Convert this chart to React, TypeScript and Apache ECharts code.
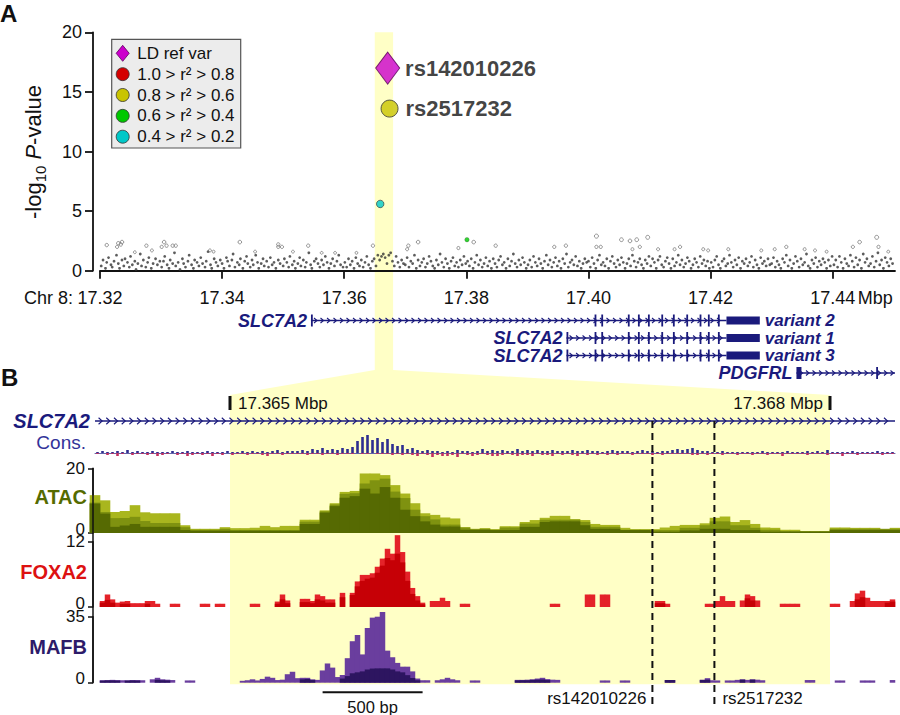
import { useEffect, useRef } from 'react';
import * as echarts from 'echarts';

const FONT = '"Liberation Sans", Arial, Helvetica, sans-serif';
const INK = '#111111';
const NAVY = '#1A1A7C';
const HIGHLIGHT = '#FFFFC6';

// ---------- Panel A: regional association scan ----------
const scanStart = 17.32;
const scanEnd = 17.4502;
const scanTicks = [17.32, 17.34, 17.36, 17.38, 17.4, 17.42, 17.44];
const pTicks = [0, 5, 10, 15, 20];

// background variants: offset (kb) from 17.32 Mbp, -log10 P
const bgKb = [
  0.2, 0.5, 0.9, 1.1, 1.4, 1.8, 2.0, 2.3, 2.7, 3.0, 3.2, 3.6, 3.9, 4.1, 4.5, 4.8, 5.0, 5.3, 5.7, 5.9, 6.2, 6.6, 6.8, 7.1, 7.5, 7.8, 8.0, 8.4, 8.7, 9.1, 9.4, 9.8,
  10.1, 10.4, 10.6, 11.0, 11.3, 11.5, 11.9, 12.2, 12.4, 12.8, 13.1, 13.5, 13.7, 14.0, 14.4, 14.6, 15.0, 15.3, 15.5, 15.9, 16.2, 16.5, 16.8, 17.2, 17.4, 17.7, 18.1, 18.3, 18.7, 19.0, 19.3, 19.7,
  20.0, 20.3, 20.7, 20.9, 21.2, 21.6, 21.8, 22.1, 22.5, 22.8, 23.0, 23.4, 23.7, 24.0, 24.2, 24.6, 24.9, 25.1, 25.5, 25.8, 26.0, 26.4, 26.7, 26.9, 27.3, 27.6, 27.9, 28.2, 28.5, 28.8, 29.2, 29.5,
  30.0, 30.2, 30.6, 30.9, 31.1, 31.5, 31.8, 32.0, 32.4, 32.7, 32.9, 33.3, 33.6, 33.8, 34.2, 34.5, 34.7, 35.1, 35.4, 35.7, 36.0, 36.3, 36.6, 36.9, 37.2, 37.5, 37.8, 38.1, 38.4, 38.8, 39.1, 39.4, 39.8,
  40.1, 40.4, 40.7, 41.0, 41.3, 41.6, 41.9, 42.2, 42.5, 42.8, 43.1, 43.4, 43.7, 44.0, 44.3, 44.6, 44.9, 45.2, 45.5, 45.8, 46.1, 46.4, 46.7, 47.0, 47.3, 47.6, 47.9, 48.2, 48.5, 48.8, 49.1, 49.4, 49.7,
  50.0, 50.3, 50.6, 50.9, 51.2, 51.5, 51.8, 52.1, 52.4, 52.7, 53.0, 53.3, 53.6, 53.9, 54.2, 54.5, 54.8, 55.1, 55.4, 55.7, 56.0, 56.3, 56.6, 56.9, 57.2, 57.5, 57.8, 58.1, 58.4, 58.7, 59.0, 59.3, 59.6, 59.9,
  60.2, 60.5, 60.8, 61.1, 61.4, 61.7, 62.0, 62.3, 62.6, 62.9, 63.2, 63.5, 63.8, 64.1, 64.4, 64.7, 65.0, 65.3, 65.6, 65.9, 66.2, 66.5, 66.8, 67.1, 67.4, 67.7, 68.0, 68.3, 68.6, 68.9, 69.2, 69.5, 69.8,
  70.1, 70.4, 70.7, 71.0, 71.3, 71.6, 71.9, 72.2, 72.5, 72.8, 73.1, 73.4, 73.7, 74.0, 74.3, 74.6, 74.9, 75.2, 75.5, 75.8, 76.1, 76.4, 76.7, 77.0, 77.3, 77.6, 77.9, 78.2, 78.5, 78.8, 79.1, 79.4, 79.7,
  80.0, 80.3, 80.6, 80.9, 81.2, 81.5, 81.8, 82.1, 82.4, 82.7, 83.0, 83.3, 83.6, 83.9, 84.2, 84.5, 84.8, 85.1, 85.4, 85.7, 86.0, 86.3, 86.6, 86.9, 87.2, 87.5, 87.8, 88.1, 88.4, 88.7, 89.0, 89.3, 89.6, 89.9,
  90.2, 90.5, 90.8, 91.1, 91.4, 91.7, 92.0, 92.3, 92.6, 92.9, 93.2, 93.5, 93.8, 94.1, 94.4, 94.7, 95.0, 95.3, 95.6, 95.9, 96.2, 96.5, 96.8, 97.1, 97.4, 97.7, 98.0, 98.3, 98.6, 98.9, 99.2, 99.5, 99.8,
  100.1, 100.4, 100.7, 101.0, 101.3, 101.6, 101.9, 102.2, 102.5, 102.8, 103.1, 103.4, 103.7, 104.0, 104.3, 104.6, 104.9, 105.2, 105.5, 105.8, 106.1, 106.4, 106.7, 107.0, 107.3, 107.6, 107.9, 108.2, 108.5, 108.8, 109.1, 109.4, 109.7,
  110.0, 110.3, 110.6, 110.9, 111.2, 111.5, 111.8, 112.1, 112.4, 112.7, 113.0, 113.3, 113.6, 113.9, 114.2, 114.5, 114.8, 115.1, 115.4, 115.7, 116.0, 116.3, 116.6, 116.9, 117.2, 117.5, 117.8, 118.1, 118.4, 118.7, 119.0, 119.3, 119.6, 119.9,
  120.2, 120.5, 120.8, 121.1, 121.4, 121.7, 122.0, 122.3, 122.6, 122.9, 123.2, 123.5, 123.8, 124.1, 124.4, 124.7, 125.0, 125.3, 125.6, 125.9, 126.2, 126.5, 126.8, 127.1, 127.4, 127.7, 128.0, 128.3, 128.6, 128.9, 129.2, 129.5, 129.8,
];
const bgLogP = [
  0.4, 0.9, 0.2, 0.7, 1.1, 0.5, 0.3, 0.8, 1.3, 0.6, 0.2, 0.9, 0.4, 1.0, 0.7, 0.3, 1.2, 0.5, 0.8, 0.1, 0.6, 1.4, 0.4, 0.9, 0.3, 0.7, 1.1, 0.2, 0.6, 1.0, 0.5, 0.8,
  0.3, 0.8, 1.2, 0.5, 0.2, 0.9, 0.6, 1.5, 0.4, 0.7, 0.1, 1.0, 0.6, 0.3, 0.8, 1.3, 0.5, 0.2, 0.9, 0.7, 0.4, 1.1, 0.6, 0.3, 0.8, 1.6, 0.5, 0.2, 1.0, 0.7, 0.4, 0.9,
  0.6, 0.2, 1.1, 0.8, 0.4, 0.9, 1.4, 0.3, 0.7, 0.5, 1.0, 0.2, 0.8, 1.2, 0.6, 0.3, 0.9, 0.5, 1.3, 0.7, 0.2, 0.6, 1.0, 0.4, 0.8, 0.3, 1.1, 0.5, 0.7, 0.2, 0.9, 0.6,
  0.4, 1.0, 0.7, 0.3, 1.2, 0.5, 0.8, 0.2, 0.6, 1.1, 0.4, 0.9, 0.3, 0.7, 1.5, 0.5, 0.2, 0.8, 1.0, 0.6, 0.3, 0.9, 0.5, 1.2, 0.7, 0.2, 0.6, 1.0, 0.4, 0.8, 1.3, 0.5, 0.3,
  0.7, 0.3, 1.0, 0.5, 0.8, 0.2, 1.1, 0.6, 0.4, 0.9, 0.3, 0.7, 1.2, 0.5, 0.2, 0.8, 1.0, 0.4, 1.3, 0.9, 1.2, 1.4, 1.1, 0.6, 1.3, 1.5, 0.8, 0.4, 1.2, 0.7, 0.3, 0.9, 0.6,
  0.5, 1.1, 0.3, 0.8, 0.6, 1.3, 0.2, 0.9, 0.4, 0.7, 1.0, 0.3, 0.6, 1.2, 0.8, 0.4, 0.2, 0.9, 0.5, 1.4, 0.7, 0.3, 1.0, 0.6, 0.2, 0.8, 1.1, 0.4, 0.7, 0.3, 0.9, 0.5, 1.2, 0.6,
  0.8, 0.4, 1.0, 0.2, 0.7, 1.3, 0.5, 0.9, 0.3, 0.6, 1.1, 0.4, 0.8, 0.2, 1.0, 0.6, 0.3, 0.9, 1.2, 0.5, 0.7, 0.2, 1.0, 0.4, 0.8, 1.4, 0.6, 0.3, 0.9, 0.5, 1.1, 0.7, 0.2,
  0.5, 0.9, 0.3, 1.2, 0.7, 0.4, 1.0, 0.6, 0.2, 0.8, 1.3, 0.5, 0.9, 0.3, 0.7, 1.1, 0.4, 0.8, 0.2, 1.0, 0.6, 1.4, 0.3, 0.7, 0.9, 0.5, 1.2, 0.4, 0.8, 0.2, 0.6, 1.0, 0.7,
  0.8, 0.3, 1.1, 0.6, 0.2, 0.9, 1.3, 0.5, 0.7, 0.4, 1.0, 0.2, 0.8, 1.2, 0.6, 0.3, 0.9, 0.5, 1.1, 0.7, 0.2, 0.6, 1.0, 0.4, 1.3, 0.8, 0.3, 0.7, 1.0, 0.5, 0.2, 0.9, 0.6, 1.2,
  0.4, 1.0, 0.7, 0.2, 0.9, 1.2, 0.5, 0.3, 0.8, 1.1, 0.6, 0.2, 1.0, 0.4, 0.7, 1.3, 0.5, 0.9, 0.3, 0.6, 1.1, 0.8, 0.2, 0.5, 1.0, 0.7, 0.3, 1.2, 0.6, 0.9, 0.4, 0.8, 0.2,
  0.7, 0.3, 0.9, 1.2, 0.5, 0.2, 0.8, 1.0, 0.4, 0.6, 1.3, 0.7, 0.3, 0.9, 0.5, 1.1, 0.2, 0.8, 0.6, 1.0, 0.4, 0.7, 1.2, 0.3, 0.9, 0.5, 0.2, 1.1, 0.6, 0.8, 0.4, 1.0, 0.5,
  0.6, 1.1, 0.3, 0.8, 0.5, 0.2, 1.0, 0.7, 1.3, 0.4, 0.9, 0.2, 0.6, 1.2, 0.8, 0.3, 1.0, 0.5, 0.7, 1.4, 0.4, 0.2, 0.9, 0.6, 1.1, 0.3, 0.8, 0.5, 1.0, 0.7, 0.2, 0.9, 0.4, 1.2,
  0.5, 0.9, 0.3, 1.2, 0.7, 0.2, 1.0, 0.6, 0.4, 1.3, 0.8, 0.3, 1.1, 0.5, 0.9, 0.2, 1.4, 0.7, 1.0, 0.4, 0.6, 1.2, 0.3, 0.8, 1.5, 0.5, 0.9, 0.2, 1.1, 0.7, 0.4, 1.0, 0.6,
];

// modestly associated variants (drawn as open circles)
const raisedKb = [
  1.1, 2.8, 3.0, 3.4, 3.6, 5.7, 7.6, 8.5, 10.1, 10.5, 10.9, 11.9, 12.4, 18.0, 18.6, 22.9, 25.4, 29.2, 29.2, 29.8,
  31.6, 34.1, 36.3, 38.5, 42.0, 44.7, 50.3, 50.5, 52.1, 58.7, 61.2, 64.8, 74.4, 76.3, 81.3, 81.3, 82.0, 85.4, 86.8, 87.2,
  87.9, 88.4, 89.7, 91.4, 94.1, 95.0, 98.8, 99.6, 102.9, 108.3, 110.5, 112.4, 115.4, 117.1, 119.0, 123.3, 124.4, 127.2, 127.5, 129.1,
];
const raisedLogP = [
  2.15, 2.0, 2.3, 2.2, 2.4, 1.55, 2.1, 1.7, 2.0, 2.4, 2.1, 2.1, 2.1, 1.7, 1.6, 2.4, 1.6, 2.0, 2.2, 2.0,
  1.6, 2.1, 1.5, 1.5, 1.5, 2.1, 1.8, 2.1, 2.4, 1.9, 2.4, 2.1, 2.0, 2.1, 2.9, 2.0, 2.0, 2.6, 2.5, 1.8,
  2.6, 2.0, 2.8, 1.8, 1.8, 2.0, 1.8, 1.7, 1.8, 1.7, 1.8, 2.0, 1.8, 1.7, 1.6, 2.0, 2.4, 2.8, 2.0, 1.6,
];

const refLabel = 'LD ref var';
const refColor = '#CC00CC';
const ldLabels = ['1.0 > r\u00B2 > 0.8', '0.8 > r\u00B2 > 0.6', '0.6 > r\u00B2 > 0.4', '0.4 > r\u00B2 > 0.2'];
const ldColors = ['#D40000', '#C9C400', '#00C800', '#00C8C8'];

const topSnpIds = ['rs142010226', 'rs2517232'];
const topSnpPos = [17.367112, 17.367422];
const topSnpLogP = [17.0, 13.6];
const topSnpLd = [-1, 1]; // -1 = LD reference variant, otherwise index into ldLabels

const ldSnpPos = [17.36589, 17.3801];
const ldSnpLogP = [5.6, 2.6];
const ldSnpClass = [3, 2];

// ---------- gene models ----------
const geneRowIds = ['v2', 'v1', 'v3', 'pdgfrl'];
const geneNames = ['SLC7A2', 'SLC7A2', 'SLC7A2', 'PDGFRL'];
const geneTags = ['variant 2', 'variant 1', 'variant 3', ''];
const geneStart = [17.35455, 17.3964, 17.3964, 17.43406];
const geneCdsEnd = [17.4226, 17.4226, 17.4226, 17.4502];
const geneTxEnd = [17.42806, 17.42806, 17.42806, 17.4502];
const slc7a2Exons = [
  [17.401, 17.40125], [17.4021, 17.40222], [17.40645, 17.40655], [17.4081, 17.40818], [17.40974, 17.40982],
  [17.41193, 17.412], [17.41383, 17.4139], [17.41602, 17.41609], [17.4182, 17.41828], [17.41956, 17.41963], [17.4212, 17.42128],
];
const geneExons = [
  [[17.35455, 17.35462], ...slc7a2Exons],
  [[17.3964, 17.39648], ...slc7a2Exons],
  [[17.3964, 17.39648], ...slc7a2Exons],
  [[17.43406, 17.43488], [17.44712, 17.4472]],
];

// ---------- Panel B: zoomed locus ----------
const focusStart = 17.365;
const focusEnd = 17.368;
const viewStart = 17.364325;
const viewEnd = 17.368325;
const scaleBarStart = 17.365463;
const scaleBarBp = 500;

// ATAC-seq coverage, 50 bp bins starting at 17.3643 Mbp (three overlaid samples)
const atacBinStart = 17.3643;
const atacBinBp = 50;
const atacSampleA = [
  11.7, 10.1, 6.5, 6.8, 8.6, 6.4, 6.1, 6.1, 6.1, 2.4,
  1.3, 1.3, 1.3, 1.8, 1.5, 1.5, 1.6, 2.2, 1.8, 2.2,
  2.2, 4.1, 4.1, 7.0, 9.2, 12.7, 13.0, 18.4, 18.4, 17.9,
  14.8, 12.2, 9.2, 6.1, 5.6, 4.8, 4.5, 1.8, 1.3, 1.5,
  1.2, 2.1, 2.1, 3.4, 4.0, 4.7, 5.3, 5.3, 4.3, 4.0,
  2.8, 2.5, 2.5, 1.6, 1.2, 1.2, 1.2, 1.7, 2.2, 2.5,
  2.5, 3.0, 4.7, 5.1, 3.4, 4.0, 2.8, 1.7, 1.6, 1.0,
  1.0, 0.6, 0.6, 0.6, 1.7, 1.7, 1.6, 1.6, 1.6, 1.0,
  1.6,
];
const atacSampleB = [
  9.4, 6.5, 4.6, 4.6, 5.0, 3.7, 3.1, 3.1, 3.1, 1.8,
  1.0, 1.0, 1.0, 1.3, 0.9, 0.9, 0.9, 0.9, 0.9, 0.9,
  0.9, 3.5, 3.5, 6.7, 8.8, 12.1, 12.3, 15.3, 16.3, 16.8,
  12.8, 10.8, 7.2, 5.2, 4.2, 2.6, 2.6, 1.7, 1.1, 1.3,
  1.0, 1.7, 1.7, 2.9, 2.9, 4.1, 4.1, 4.1, 4.1, 3.4,
  1.9, 1.9, 1.9, 1.0, 1.0, 1.0, 0.9, 0.9, 0.9, 1.6,
  1.6, 2.4, 3.6, 3.6, 2.4, 2.4, 1.6, 1.0, 1.0, 0.6,
  0.6, 0.6, 0.6, 0.6, 1.3, 1.3, 1.3, 1.3, 1.3, 1.3,
  1.3,
];
const atacSampleC = [
  9.1, 6.0, 1.9, 2.3, 2.8, 1.9, 1.9, 1.9, 1.9, 0.9,
  0.7, 0.7, 0.7, 0.7, 0.7, 0.7, 0.7, 0.7, 0.7, 0.7,
  0.7, 2.8, 2.8, 6.3, 8.3, 10.9, 11.4, 13.7, 12.2, 14.2,
  10.9, 7.2, 5.2, 3.6, 2.6, 2.0, 2.0, 1.0, 1.0, 1.0,
  0.9, 0.9, 0.9, 1.9, 1.9, 3.4, 3.6, 3.6, 3.6, 2.4,
  1.3, 1.3, 1.3, 0.9, 0.9, 0.9, 0.4, 0.4, 0.4, 0.8,
  0.8, 1.3, 1.3, 1.3, 0.9, 0.9, 0.9, 0.4, 0.4, 0.4,
  0.4, 0.4, 0.4, 0.4, 0.9, 0.9, 0.9, 0.9, 0.9, 0.9,
  0.9,
];

// 25 bp bins starting at the left edge of the view: [bin, value]
const trackBinStart = 17.364325;
const trackBinBp = 25;
const foxa2Upper = [
  [1, 1.1], [2, 2.3], [3, 1.4], [4, 0.8], [5, 1.0], [6, 1.1], [7, 0.7], [8, 0.7], [9, 0.7], [10, 1.1], [11, 1.1], [12, 0.6],
  [15, 0.6], [16, 0.6], [21, 0.6], [22, 0.6], [24, 0.6], [25, 0.6], [31, 0.6], [32, 0.6], [36, 1.0], [37, 2.3], [38, 1.2],
  [41, 1.5], [42, 1.5], [43, 1.1], [44, 2.3], [45, 2.0], [46, 1.4], [47, 1.4], [49, 2.6], [51, 2.6], [52, 4.7], [53, 5.9],
  [54, 5.9], [55, 6.2], [56, 7.4], [57, 8.9], [58, 10.7], [59, 9.8], [60, 13.2], [61, 10.1], [62, 6.5], [63, 3.5], [64, 2.0],
  [65, 0.8], [67, 1.1], [68, 1.1], [69, 1.7], [70, 1.1], [73, 0.6], [74, 0.6], [91, 0.6], [92, 0.6], [98, 2.3], [99, 2.3],
  [101, 2.3], [102, 2.3], [112, 1.1], [113, 1.1], [114, 0.6], [122, 0.6], [123, 0.6], [124, 1.1], [125, 2.0], [126, 1.1],
  [127, 1.1], [129, 1.2], [130, 2.3], [131, 2.0], [132, 1.2], [137, 0.6], [138, 0.6], [139, 0.6], [140, 0.6], [147, 0.6],
  [148, 0.6], [151, 1.1], [152, 2.5], [153, 3.0], [154, 1.7], [155, 1.1], [156, 1.1], [157, 1.1], [158, 1.1], [159, 1.4],
];
const foxa2Lower = [
  [1, 0.8], [2, 1.3], [3, 0.8], [5, 0.6], [6, 0.6], [10, 0.6], [36, 0.6], [37, 1.4], [38, 0.7], [41, 0.9], [42, 0.9],
  [43, 0.7], [44, 1.4], [45, 1.2], [46, 0.8], [47, 0.8], [49, 1.8], [51, 2.2], [52, 3.8], [53, 4.8], [54, 5.2], [55, 5.4],
  [56, 6.3], [57, 7.6], [58, 9.0], [59, 8.6], [60, 9.8], [61, 8.2], [62, 4.8], [63, 2.4], [64, 1.2], [65, 0.5],
  [112, 0.7], [113, 0.7], [130, 1.6], [131, 1.2], [152, 1.4], [153, 1.8], [158, 0.8], [159, 1.0],
];
const mafbUpper = [
  [1, 1.3], [2, 1.4], [3, 1.5], [4, 1.4], [5, 1.3], [6, 1.3], [7, 1.4], [8, 1.4], [9, 1.3], [11, 1.8], [12, 2.6], [13, 1.8],
  [14, 1.6], [15, 1.4], [18, 1.2], [19, 1.2], [29, 1.0], [30, 1.3], [31, 1.8], [32, 1.2], [33, 2.0], [34, 3.2], [35, 2.6],
  [36, 1.4], [37, 1.6], [38, 4.5], [39, 5.8], [40, 2.4], [41, 2.6], [42, 2.6], [43, 1.8], [44, 1.5], [45, 6.5], [46, 10.2],
  [47, 8.0], [48, 3.0], [49, 4.1], [50, 13.0], [51, 22.0], [52, 25.3], [53, 15.0], [54, 29.0], [55, 34.5], [56, 35.0],
  [57, 37.5], [58, 17.0], [59, 13.5], [60, 10.5], [61, 8.5], [62, 8.5], [63, 6.0], [64, 2.2], [65, 1.3], [66, 1.3],
  [68, 1.3], [69, 1.8], [70, 2.6], [71, 1.8], [72, 1.3], [75, 1.2], [76, 1.2], [84, 1.5], [85, 1.5], [86, 1.6], [87, 1.8],
  [88, 2.2], [89, 2.6], [90, 1.9], [91, 1.6], [92, 1.5], [101, 1.2], [102, 1.2], [105, 1.2], [106, 1.2], [114, 1.4],
  [115, 1.4], [121, 1.6], [122, 2.4], [123, 1.3], [124, 1.2], [126, 1.2], [127, 1.2], [128, 1.5], [129, 1.8], [130, 1.5],
  [131, 1.8], [132, 1.6], [133, 1.3], [142, 1.4], [143, 1.4], [148, 1.2], [149, 1.2], [153, 1.2], [154, 1.2], [155, 1.2],
  [159, 1.4],
];
const mafbLower = [
  [1, 1.1], [2, 1.2], [3, 1.2], [4, 1.1], [6, 1.1], [7, 1.2], [8, 1.1], [12, 1.5], [13, 1.3], [14, 1.2], [41, 1.8],
  [42, 2.0], [43, 1.4], [49, 2.2], [50, 3.5], [51, 5.0], [52, 5.5], [53, 6.0], [54, 7.0], [55, 7.5], [56, 7.6], [57, 7.6],
  [58, 7.6], [59, 7.0], [60, 6.0], [61, 5.5], [62, 4.0], [63, 2.5], [64, 1.3], [84, 1.2], [85, 1.3], [86, 1.3], [87, 1.5],
  [88, 1.6], [89, 1.7], [90, 1.4], [114, 1.4], [115, 1.4], [121, 1.4], [122, 1.6], [129, 1.6], [131, 1.6],
];

// conservation, 25 bp bins: conserved (up) and accelerated (down) scores
const consUp = [
  1, 2, 1, 1, 2, 1, 3, 1, 2, 1, 1, 2, 1, 1, 1, 2, 1, 1, 2, 1,
  1, 1, 2, 1, 1, 1, 2, 1, 1, 2, 1, 2, 1, 2, 1, 2, 3, 1, 2, 2,
  2, 3, 2, 4, 3, 5, 3, 4, 3, 5, 4, 6, 12, 16, 18, 13, 15, 11, 14, 9,
  7, 8, 4, 5, 3, 2, 3, 2, 2, 1, 2, 1, 3, 2, 2, 1, 2, 4, 2, 3,
  2, 3, 2, 2, 4, 2, 3, 2, 3, 2, 2, 3, 2, 2, 2, 3, 2, 2, 3, 2,
  2, 1, 2, 3, 2, 2, 2, 1, 2, 3, 2, 2, 1, 2, 2, 3, 4, 3, 4, 5,
  3, 2, 2, 1, 1, 2, 1, 1, 1, 1, 1, 1, 1, 2, 1, 1, 1, 1, 2, 1,
  1, 1, 2, 1, 2, 1, 3, 1, 1, 1, 1, 2, 1, 1, 1, 1, 2, 1, 1, 1,
];
const consDown = [
  1, 0, 2, 1, 3, 1, 0, 2, 1, 1, 2, 1, 3, 2, 1, 0, 2, 1, 3, 2,
  1, 2, 1, 3, 1, 2, 0, 2, 1, 1, 2, 1, 1, 2, 3, 1, 1, 2, 1, 1,
  1, 1, 2, 1, 1, 2, 1, 1, 2, 1, 1, 1, 0, 1, 1, 0, 1, 1, 1, 2,
  1, 2, 1, 2, 3, 1, 2, 4, 2, 3, 3, 2, 4, 1, 2, 3, 2, 1, 2, 3,
  3, 2, 1, 2, 3, 2, 2, 3, 1, 2, 2, 3, 1, 2, 1, 2, 3, 1, 2, 1,
  2, 1, 2, 1, 2, 1, 1, 2, 1, 1, 1, 2, 1, 2, 1, 1, 1, 1, 1, 2,
  2, 1, 2, 1, 1, 2, 1, 1, 2, 1, 1, 2, 1, 1, 2, 1, 1, 3, 1, 1,
  1, 1, 2, 1, 1, 1, 2, 1, 1, 3, 1, 1, 2, 1, 1, 1, 1, 2, 1, 1,
];

const binned = (start: number, bp: number, vals: number[]) =>
  vals.map((v, i) => [start + ((i + 0.5) * bp) / 1e6, v]);
const sparse = (start: number, bp: number, pairs: number[][]) =>
  pairs.map(([k, v]) => [start + ((k + 0.5) * bp) / 1e6, v]);

function geneRenderer(o: any) {
  return (params: any, api: any) => {
    const i = params.dataIndex;
    const cs = params.coordSys;
    const row = api.value(0);
    const ps = api.coord([api.value(1), row]);
    const yc = ps[1];
    const xCds = api.coord([api.value(2), row])[0];
    const xTx = api.coord([api.value(3), row])[0];
    const left = Math.max(ps[0], cs.x);
    const right = Math.min(xCds, cs.x + cs.width);
    const kids: any[] = [
      { type: 'line', shape: { x1: left, y1: yc, x2: right, y2: yc }, style: { stroke: NAVY, lineWidth: o.lineW } },
    ];
    for (let x = left + o.gap * 0.7; x < right - 2; x += o.gap) {
      kids.push({
        type: 'polyline',
        shape: { points: [[x - o.chevW / 2, yc - o.chevH / 2], [x + o.chevW / 2, yc], [x - o.chevW / 2, yc + o.chevH / 2]] },
        style: { stroke: NAVY, fill: 'none', lineWidth: 1.1 },
      });
    }
    (o.exons[i] || []).forEach((e: number[]) => {
      const a = api.coord([e[0], row])[0];
      const b = api.coord([e[1], row])[0];
      if (b < cs.x || a > cs.x + cs.width) return;
      const w = Math.max(1.8, b - a);
      kids.push({ type: 'rect', shape: { x: a, y: yc - o.exonH / 2, width: w, height: o.exonH }, style: { fill: NAVY } });
    });
    if (xTx > xCds + 0.5 && xCds < cs.x + cs.width) {
      const r = Math.min(xTx, cs.x + cs.width);
      kids.push({ type: 'rect', shape: { x: xCds, y: yc - o.utrH / 2, width: r - xCds, height: o.utrH }, style: { fill: NAVY } });
    }
    const textStyle = {
      fill: NAVY, fontSize: o.font, fontWeight: 'bold', fontStyle: 'italic', fontFamily: FONT,
      verticalAlign: 'middle', lineHeight: 14,
    };
    kids.push({ type: 'text', x: left - o.labelGap, y: yc, style: { ...textStyle, text: o.names[i], align: 'right' } });
    if (o.tags && o.tags[i]) {
      kids.push({ type: 'text', x: xTx + 5, y: yc, style: { ...textStyle, text: o.tags[i], fontSize: o.tagFont, align: 'left' } });
    }
    return { type: 'group', children: kids };
  };
}

const hiddenX = (g: number, min: number, max: number) => ({ gridIndex: g, type: 'value', min, max, show: false });

// signal-track axes: the zero label sits a little above its tick
const trackY = (g: number, max: number) => ({
  gridIndex: g, type: 'value', min: 0, max, interval: max, offset: 2,
  axisLine: { show: true, lineStyle: { color: INK, width: 1.5 } },
  axisTick: { show: true, length: 5, lineStyle: { color: INK, width: 1.5 } },
  axisLabel: {
    fontSize: 17, fontFamily: FONT, color: INK, margin: 8, lineHeight: 13,
    formatter: (v: number) => (v === 0 ? '{z|0}' : String(v)),
    rich: { z: { fontSize: 17, fontFamily: FONT, color: INK, lineHeight: 13, padding: [0, 0, 8, 0] } },
  },
  splitLine: { show: false },
});

const bars = (g: number, data: number[][], color: string, width: number, clip = true) => ({
  type: 'bar', xAxisIndex: g, yAxisIndex: g, data, barWidth: width, barGap: '-100%',
  itemStyle: { color }, clip, silent: true,
});

function buildOption(): any {
  const grid = [
    { left: 100, top: 32.3, width: 795, height: 238.4 },
    { left: 100, top: 311.75, width: 795, height: 70 },
    { left: 95, top: 414, width: 800, height: 14 },
    { left: 95, top: 433, width: 800, height: 28 },
    { left: 95, top: 468.3, width: 800, height: 64.7 },
    { left: 95, top: 541.7, width: 800, height: 65.3 },
    { left: 95, top: 616.7, width: 800, height: 66 },
  ];
  const xAxis = [
    {
      gridIndex: 0, type: 'value', min: scanStart, max: scanEnd, offset: 5,
      axisLine: { show: true, lineStyle: { color: INK, width: 1.8 } },
      axisTick: { show: true, customValues: scanTicks, length: 8, lineStyle: { color: INK, width: 1.8 } },
      axisLabel: { customValues: scanTicks, formatter: (v: number) => v.toFixed(2), fontSize: 18, fontFamily: FONT, color: INK, margin: 13 },
      splitLine: { show: false },
    },
    hiddenX(1, scanStart, scanEnd),
    hiddenX(2, viewStart, viewEnd),
    {
      gridIndex: 3, type: 'value', min: viewStart, max: viewEnd,
      axisLine: { show: true, onZero: true, lineStyle: { color: '#6464A8', width: 1 } },
      axisTick: { show: false }, axisLabel: { show: false }, splitLine: { show: false },
    },
    hiddenX(4, viewStart, viewEnd),
    hiddenX(5, viewStart, viewEnd),
    hiddenX(6, viewStart, viewEnd),
  ];
  const yAxis = [
    {
      gridIndex: 0, type: 'value', min: 0, max: 20, interval: 5, offset: 7,
      axisLine: { show: true, lineStyle: { color: INK, width: 1.8 } },
      axisTick: { show: true, customValues: pTicks, length: 8, lineStyle: { color: INK, width: 1.8 } },
      axisLabel: { fontSize: 18, fontFamily: FONT, color: INK, margin: 11 },
      splitLine: { show: false },
    },
    { gridIndex: 1, type: 'category', data: geneRowIds, inverse: true, show: false },
    { gridIndex: 2, type: 'value', min: 0, max: 1, show: false },
    { gridIndex: 3, type: 'value', min: -8, max: 20, show: false },
    trackY(4, 20),
    trackY(5, 12),
    trackY(6, 35),
  ];

  const n = Math.min(bgKb.length, bgLogP.length);
  const bgData = bgKb.slice(0, n).map((k, i) => [scanStart + k / 1000, bgLogP[i]]);
  const raisedData = raisedKb.map((k, i) => [scanStart + k / 1000, raisedLogP[i]]);

  const series: any[] = [
    {
      type: 'scatter', xAxisIndex: 0, yAxisIndex: 0, data: bgData, symbolSize: 2.8, silent: true,
      itemStyle: { color: '#333333' },
    },
    {
      type: 'scatter', xAxisIndex: 0, yAxisIndex: 0, data: raisedData, silent: true,
      symbolSize: (v: number[]) => 2.8 + (v[1] - 1.5) * 0.9,
      itemStyle: { color: 'rgba(255,255,255,0)', borderColor: '#6A6A6A', borderWidth: 0.9 },
    },
    {
      type: 'scatter', xAxisIndex: 0, yAxisIndex: 0, silent: true,
      data: ldSnpPos.map((p, i) => ({
        value: [p, ldSnpLogP[i]],
        symbolSize: ldSnpClass[i] === 3 ? 7.5 : 4.5,
        itemStyle: { color: ldColors[ldSnpClass[i]], borderColor: '#333', borderWidth: ldSnpClass[i] === 3 ? 0.8 : 0.3 },
      })),
    },
    {
      type: 'scatter', xAxisIndex: 0, yAxisIndex: 0, silent: true,
      data: topSnpIds.map((id, i) => {
        const isRef = topSnpLd[i] < 0;
        return {
          name: id,
          value: [topSnpPos[i], topSnpLogP[i]],
          symbol: isRef ? 'diamond' : 'circle',
          symbolSize: isRef ? [24, 32] : 17,
          itemStyle: { color: isRef ? refColor : ldColors[topSnpLd[i]], borderColor: isRef ? '#5A005A' : '#333', borderWidth: 1 },
          label: { distance: isRef ? 5 : 7 },
        };
      }),
      label: {
        show: true, position: 'right', formatter: '{b}', fontSize: 22, fontWeight: 'bold', fontFamily: FONT, color: INK,
      },
    },
    {
      type: 'custom', xAxisIndex: 1, yAxisIndex: 1, silent: true,
      encode: { x: [1, 2, 3], y: 0 },
      data: geneNames.map((_, i) => [i, geneStart[i], geneCdsEnd[i], geneTxEnd[i]]),
      renderItem: geneRenderer({
        gap: 6.5, chevW: 3, chevH: 5, lineW: 1.3, exonH: 12, utrH: 8, font: 18, tagFont: 17, labelGap: 4,
        names: geneNames, tags: geneTags, exons: geneExons,
      }),
    },
    {
      type: 'custom', xAxisIndex: 2, yAxisIndex: 2, silent: true,
      encode: { x: [1, 2, 3], y: 0 },
      data: [[0.5, geneStart[0], geneCdsEnd[0], geneTxEnd[0]]],
      renderItem: geneRenderer({
        gap: 7.7, chevW: 3.6, chevH: 6.5, lineW: 1.4, exonH: 12, utrH: 8, font: 20, tagFont: 17, labelGap: 5,
        names: [geneNames[0]], tags: null, exons: [geneExons[0]],
      }),
    },
    bars(3, binned(trackBinStart, trackBinBp, consUp), '#2E2E90', 2.6),
    bars(3, binned(trackBinStart, trackBinBp, consDown.map((v) => -v)), '#C23060', 2.6),
    bars(4, binned(atacBinStart, atacBinBp, atacSampleA), '#A9B61E', 10.6),
    bars(4, binned(atacBinStart, atacBinBp, atacSampleB), '#7F9210', 10.6),
    bars(4, binned(atacBinStart, atacBinBp, atacSampleC), '#566A02', 10.6),
    bars(5, sparse(trackBinStart, trackBinBp, foxa2Upper), '#E42229', 5.5, false),
    bars(5, sparse(trackBinStart, trackBinBp, foxa2Lower), '#C60006', 5.5, false),
    bars(6, sparse(trackBinStart, trackBinBp, mafbUpper), '#6A3E9E', 5.5, false),
    bars(6, sparse(trackBinStart, trackBinBp, mafbLower), '#2D1560', 5.5, false),
  ];

  return { animation: false, backgroundColor: '#ffffff', grid, xAxis, yAxis, series };
}

function overlay(chart: any): any[] {
  const at = (g: number, x: number, y: number) => chart.convertToPixel({ gridIndex: g }, [x, y]) as number[];
  const txt = (x: number, y: number, text: string, s: any = {}) => ({
    type: 'text', x, y, z: 50, silent: true,
    style: { text, fill: INK, fontSize: 17, fontFamily: FONT, align: 'left', verticalAlign: 'middle', ...s },
  });
  const els: any[] = [];

  // highlighted window and its zoom-out into panel B
  const aL = at(0, focusStart, 20);
  const aR = at(0, focusEnd, 20);
  const bL = at(4, focusStart, 20)[0];
  const bR = at(4, focusEnd, 20)[0];
  const bottom = at(6, focusStart, 0)[1] + 1.5;
  els.push({
    type: 'polygon', z: -10, silent: true,
    shape: { points: [[aL[0], aL[1]], [aR[0], aR[1]], [aR[0], 370], [bR, 395], [bR, bottom], [bL, bottom], [bL, 395], [aL[0], 370]] },
    style: { fill: HIGHLIGHT },
  });

  // panel letters
  els.push(txt(0, 13, 'A', { fontSize: 24, fontWeight: 'bold' }));
  els.push(txt(1, 377, 'B', { fontSize: 24, fontWeight: 'bold' }));

  // y-axis title of panel A
  els.push({
    type: 'text', x: 33, y: 152, rotation: Math.PI / 2, z: 50, silent: true,
    style: {
      text: '{t|-log}{s|10}{t| }{i|P}{t|-value}', align: 'center', verticalAlign: 'middle',
      rich: {
        t: { fontSize: 22, fontFamily: FONT, fill: INK, lineHeight: 30, verticalAlign: 'middle' },
        s: { fontSize: 15, fontFamily: FONT, fill: INK, lineHeight: 30, verticalAlign: 'bottom' },
        i: { fontSize: 22, fontFamily: FONT, fill: INK, fontStyle: 'italic', lineHeight: 30, verticalAlign: 'middle' },
      },
    },
  });

  // chromosome and unit around the position axis
  const axY = at(0, scanStart, 0)[1] + 27.5;
  els.push(txt(at(0, scanStart, 0)[0] - 27, axY, 'Chr 8:', { fontSize: 18, align: 'right' }));
  els.push(txt(at(0, scanTicks[scanTicks.length - 1], 0)[0] + 25, axY, 'Mbp', { fontSize: 18 }));

  // LD legend
  const lx = 111.7;
  const ly = 39.3;
  els.push({ type: 'rect', z: 40, silent: true, shape: { x: lx, y: ly, width: 129, height: 108.7 }, style: { fill: '#ECECEC', stroke: '#555', lineWidth: 1.2 } });
  const rowY = (k: number) => ly + 14 + k * 20.85;
  const cx = lx + 11;
  els.push({
    type: 'polygon', z: 45, silent: true,
    shape: { points: [[cx, rowY(0) - 8], [cx + 6.5, rowY(0)], [cx, rowY(0) + 8], [cx - 6.5, rowY(0)]] },
    style: { fill: refColor, stroke: '#5A005A', lineWidth: 0.8 },
  });
  els.push(txt(lx + 25.5, rowY(0), refLabel));
  ldLabels.forEach((lab, k) => {
    els.push({ type: 'circle', z: 45, silent: true, shape: { cx, cy: rowY(k + 1), r: 6.5 }, style: { fill: ldColors[k], stroke: '#333', lineWidth: 0.8 } });
    els.push(txt(lx + 25.5, rowY(k + 1), lab));
  });

  // window boundary markers in panel B
  const mTop = 396;
  [focusStart, focusEnd].forEach((pos, k) => {
    const x = at(4, pos, 0)[0];
    els.push({ type: 'rect', z: 45, silent: true, shape: { x: x - 1.5, y: mTop, width: 3, height: 14 }, style: { fill: INK } });
    const label = pos.toFixed(3) + ' Mbp';
    els.push(k === 0 ? txt(x + 8, mTop + 7, label) : txt(x - 7, mTop + 7, label, { align: 'right' }));
  });

  // track labels
  els.push(txt(86, 442, 'Cons.', { fontSize: 19, fill: '#333399', align: 'right' }));
  els.push(txt(87, 497, 'ATAC', { fontSize: 20, fontWeight: 'bold', fill: '#556B00', align: 'right' }));
  els.push(txt(87, 572, 'FOXA2', { fontSize: 20, fontWeight: 'bold', fill: '#DD1111', align: 'right' }));
  els.push(txt(87, 647, 'MAFB', { fontSize: 20, fontWeight: 'bold', fill: '#2D1B69', align: 'right' }));

  // shared vertical axis of the signal tracks
  const axX = at(4, viewStart, 0)[0] - 2;
  els.push({
    type: 'line', z: 45, silent: true,
    shape: { x1: axX, y1: at(4, viewStart, 20)[1], x2: axX, y2: at(6, viewStart, 0)[1] },
    style: { stroke: INK, lineWidth: 1.5 },
  });

  // variant positions
  topSnpIds.forEach((id, i) => {
    const x = at(4, topSnpPos[i], 0)[0];
    els.push({ type: 'line', z: 48, silent: true, shape: { x1: x, y1: 421, x2: x, y2: 707 }, style: { stroke: INK, lineWidth: 2, lineDash: [7, 5] } });
    els.push(i === 0 ? txt(x - 6, 698, id, { align: 'right' }) : txt(x + 8, 698, id));
  });

  // scale bar
  const s0 = at(6, scaleBarStart, 0)[0];
  const s1 = at(6, scaleBarStart + scaleBarBp / 1e6, 0)[0];
  els.push({ type: 'line', z: 45, silent: true, shape: { x1: s0, y1: 692.3, x2: s1, y2: 692.3 }, style: { stroke: INK, lineWidth: 2 } });
  els.push(txt((s0 + s1) / 2, 707, scaleBarBp + ' bp', { align: 'center', fontSize: 16.5 }));

  return els;
}

export default function App() {
  const ref = useRef<HTMLDivElement>(null);
  useEffect(() => {
    const el = ref.current;
    if (!el) return;
    const chart = echarts.init(el, null, { renderer: 'svg' });
    chart.setOption(buildOption());
    chart.setOption({ graphic: overlay(chart) });
    return () => chart.dispose();
  }, []);
  return <div ref={ref} style={{ position: 'fixed', left: 0, top: 0, width: 900, height: 715, background: '#fff' }} />;
}
